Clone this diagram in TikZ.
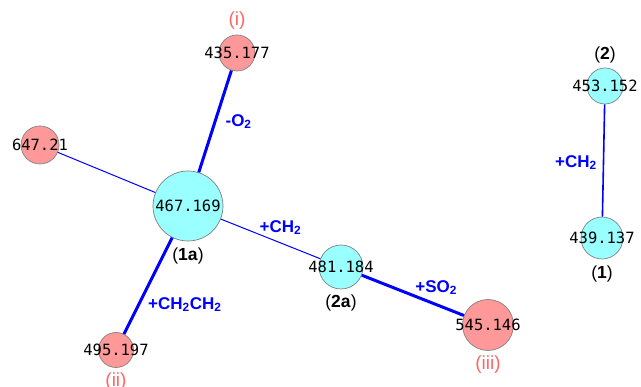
\documentclass[tikz,border=0pt]{standalone}
\usepackage{fontspec}
\setmainfont{Liberation Sans}
\newfontfamily\massfont{DejaVu Sans Mono}
\usetikzlibrary{positioning}
\definecolor{ionRed}{HTML}{FF9999}
\definecolor{ionCyan}{HTML}{99FFFF}
\definecolor{ionRim}{HTML}{808080}
\definecolor{shiftBlue}{HTML}{0000FF}
\definecolor{tagRed}{HTML}{FF6666}
\tikzset{
  ion/.style={circle, draw=ionRim, line width=0.7pt, inner sep=0pt},
  redion/.style={ion, fill=ionRed},
  cyanion/.style={ion, fill=ionCyan},
  mass/.style={font=\massfont\fontsize{15.5}{17}\selectfont, text=black},
  shiftlabel/.style={font=\bfseries\fontsize{17}{19}\selectfont, text=shiftBlue, inner sep=2pt},
  tag/.style={font=\fontsize{19}{21}\selectfont, text=tagRed, inner sep=2pt},
  cpd/.style={font=\fontsize{17.5}{19}\selectfont, text=black, inner sep=2pt},
  thicklink/.style={shiftBlue, line width=3pt},
  thinlink/.style={shiftBlue, line width=1pt},
  midlink/.style={shiftBlue, line width=1.6pt},
}

\begin{document}
\begin{tikzpicture}[x=1pt, y=-1pt]
  \useasboundingbox (0,0) rectangle (641,387);

  % ---- Ions of the left network ----
  \node[cyanion, minimum size=70pt, label={[mass]center:467.169}] (m467) at (188,206) {};
  \node[redion, minimum size=36pt, label={[mass]center:435.177}] (m435) at (237,53) {};
  \node[redion, minimum size=38pt, label={[mass]center:647.21}] (m647) at (40,145) {};
  \node[cyanion, minimum size=44pt, label={[mass]center:481.184}] (m481) at (341,267) {};
  \node[redion, minimum size=35pt, label={[mass]center:495.197}] (m495) at (116,350) {};
  \node[redion, minimum size=51pt, label={[mass]center:545.146}] (m545) at (488,325) {};

  % ---- Ions of the right pair ----
  \node[cyanion, minimum size=36pt, label={[mass]center:453.152}] (m453) at (605,86) {};
  \node[cyanion, minimum size=42pt, label={[mass]center:439.137}] (m439) at (602,238) {};

  % Tags
  \node[tag, above=3pt of m435] (tagi) {(i)};
  \node[tag, below=3pt of m495] (tagii) {(ii)};
  \node[tag, below=3pt of m545] (tagiii) {(iii)};
  \node[cpd, below=4pt of m467] (cpd1a) {(\textbf{1a})};
  \node[cpd, below=3pt of m481] (cpd2a) {(\textbf{2a})};
  \node[cpd, above=2pt of m453] (cpd2) {(\textbf{2})};
  \node[cpd, below=4pt of m439] (cpd1) {(\textbf{1})};

  % ---- Mass shifts ----
  \draw[thicklink] (m467) -- (m435)
    node[shiftlabel, pos=0.5, right=7pt] (lossO) {-O\textsubscript{2}};
  \draw[thinlink] (m467) -- (m647);
  \draw[thinlink] (m467) -- (m481)
    node[shiftlabel, pos=0.54, above=3pt, xshift=6pt] (addC) {+CH\textsubscript{2}};
  \draw[thicklink] (m467) -- (m495)
    node[shiftlabel, pos=0.695, right=6pt] (addCC) {+CH\textsubscript{2}CH\textsubscript{2}};
  \draw[thicklink] (m481) -- (m545)
    node[shiftlabel, pos=0.67, above=4pt, xshift=6pt] (addS) {+SO\textsubscript{2}};
  \draw[midlink] (m453) -- (m439)
    node[shiftlabel, pos=0.52, left=4pt] (addR) {+CH\textsubscript{2}};
\end{tikzpicture}
\end{document}
